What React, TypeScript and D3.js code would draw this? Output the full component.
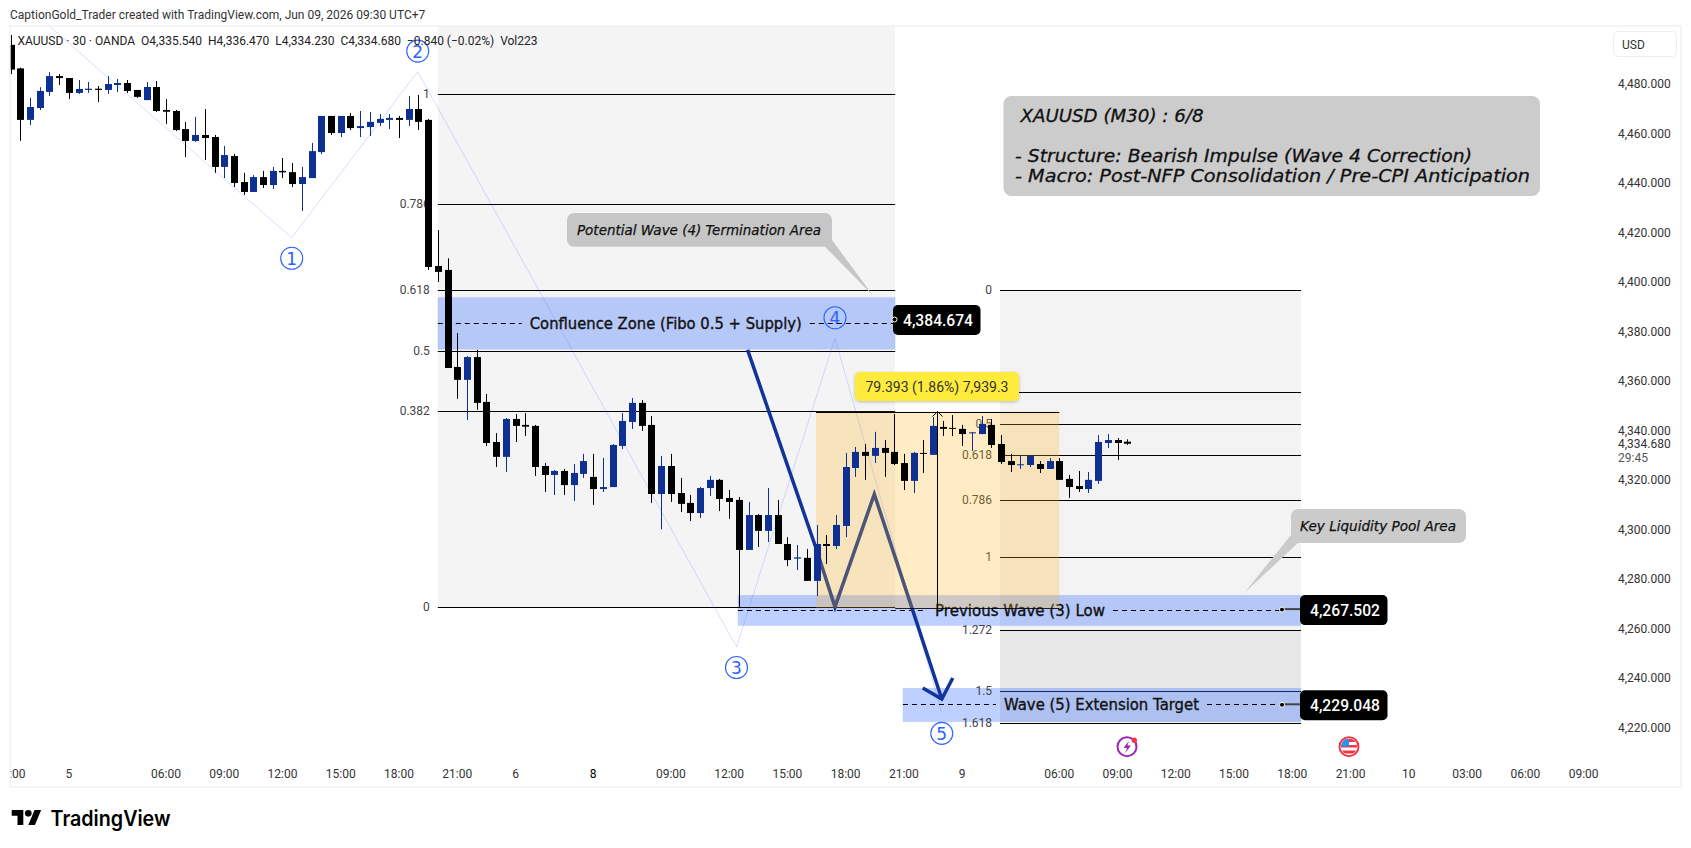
import React from "react";
import * as d3 from "d3";

const WIDTH = 1691;
const HEIGHT = 848;

// ---------- OHLC of the XAUUSD 30m bars ----------
const opens = [4495.8,4486.3,4465.5,4470.3,4476.8,4483.2,4482.4,4476.4,4477.6,4478.1,4477.6,4479.6,4480.4,4477.6,4473.5,4478.8,4469.5,4469.1,4461.8,4457.0,4459.4,4458.6,4446.5,4450.9,4440.4,4436.4,4442.4,4439.2,4444.9,4444.4,4439.6,4442.0,4452.5,4467.1,4460.2,4467.1,4462.2,4462.6,4464.3,4465.5,4466.3,4465.5,4469.9,4465.5,4406.5,4404.9,4365.7,4360.5,4369.7,4351.6,4335.4,4329.4,4344.7,4342.3,4341.9,4325.7,4322.1,4323.7,4318.0,4322.5,4321.3,4316.4,4317.2,4333.8,4343.5,4351.2,4342.3,4314.4,4325.7,4314.8,4310.8,4306.7,4316.8,4320.1,4312.8,4312.0,4291.8,4305.9,4299.5,4305.9,4294.2,4288.3,4288.6,4279.3,4294.2,4293.4,4301.5,4324.9,4331.4,4329.8,4333.0,4331.4,4326.9,4319.7,4331.0,4330.2,4341.5,4341.1,4340.7,4338.9,4338.6,4342.3,4334.6,4327.7,4326.1,4326.1,4326.5,4324.5,4327.7,4320.5,4317.6,4316.4,4319.7,4335.0,4336.2,4335.54];
const highs = [4499.8,4486.6,4474.4,4478.7,4484.8,4484.0,4482.4,4481.6,4480.8,4479.2,4483.2,4482.0,4481.6,4477.6,4480.8,4481.2,4473.9,4469.5,4464.7,4466.7,4469.9,4459.4,4455.0,4451.7,4444.1,4443.2,4444.9,4446.5,4450.1,4448.1,4446.5,4456.2,4467.1,4467.1,4467.1,4468.3,4469.1,4468.7,4467.9,4467.9,4467.1,4475.2,4475.6,4465.9,4421.0,4409.6,4379.4,4370.1,4372.6,4354.8,4339.0,4345.1,4346.7,4347.1,4342.3,4326.9,4324.1,4324.5,4326.5,4330.6,4330.6,4329.0,4334.6,4347.1,4353.2,4352.4,4345.9,4329.8,4330.6,4320.9,4314.0,4317.2,4321.7,4320.5,4316.0,4313.2,4311.2,4306.3,4316.8,4312.0,4297.0,4293.8,4292.2,4301.9,4297.8,4305.9,4331.0,4333.4,4334.6,4339.5,4336.2,4346.7,4330.6,4331.4,4336.2,4345.5,4343.9,4346.3,4342.3,4339.5,4345.9,4344.7,4338.2,4330.6,4330.2,4330.2,4327.7,4328.9,4328.9,4322.1,4323.7,4323.3,4338.2,4338.6,4337.0,4336.47];
const lows = [4484.0,4457.0,4463.4,4469.5,4475.2,4479.6,4473.9,4476.0,4476.4,4472.7,4476.0,4476.8,4476.4,4474.4,4473.5,4468.7,4463.8,4461.0,4450.5,4456.6,4449.3,4444.1,4442.0,4438.4,4435.2,4436.4,4438.0,4437.6,4442.0,4438.4,4428.7,4442.0,4451.7,4459.4,4458.6,4461.4,4458.6,4459.0,4463.0,4461.8,4458.2,4463.0,4461.4,4404.9,4400.0,4365.3,4352.8,4344.3,4348.4,4333.8,4325.3,4323.3,4335.4,4337.8,4321.7,4315.2,4314.0,4314.0,4311.6,4320.9,4310.0,4315.2,4317.2,4332.6,4340.7,4339.9,4310.8,4300.1,4311.2,4307.1,4303.5,4304.7,4313.6,4307.5,4304.3,4268.6,4291.8,4293.0,4295.0,4294.2,4285.3,4283.7,4279.3,4273.2,4286.1,4292.2,4297.0,4321.3,4320.1,4326.9,4321.3,4326.1,4316.0,4314.8,4322.9,4330.2,4337.8,4337.8,4333.8,4331.8,4338.6,4333.0,4326.5,4323.3,4324.5,4325.3,4322.9,4324.5,4320.1,4312.8,4315.2,4314.8,4318.5,4333.0,4328.1,4334.23];
const closes = [4485.8,4465.5,4470.7,4477.2,4483.2,4482.4,4476.4,4478.0,4478.1,4477.6,4480.0,4480.4,4477.2,4474.8,4478.8,4469.1,4468.8,4461.4,4457.0,4459.4,4458.2,4446.5,4451.3,4440.0,4436.4,4442.4,4439.2,4444.9,4444.3,4439.6,4442.4,4452.9,4467.1,4460.2,4467.1,4462.2,4463.0,4464.7,4465.9,4466.3,4465.5,4469.9,4464.7,4406.1,4404.1,4365.3,4360.5,4369.7,4351.2,4335.0,4329.4,4344.7,4341.9,4341.6,4325.3,4322.1,4323.7,4318.0,4322.9,4327.7,4316.4,4317.2,4334.2,4343.9,4351.2,4341.9,4314.4,4325.7,4314.4,4310.4,4306.7,4316.8,4320.1,4312.4,4311.2,4291.8,4305.9,4299.5,4305.9,4294.2,4287.7,4288.8,4279.3,4294.2,4293.4,4301.9,4325.3,4331.4,4329.8,4333.0,4331.0,4326.5,4319.7,4331.0,4330.7,4341.9,4340.7,4340.7,4338.6,4339.3,4342.7,4334.2,4327.3,4326.1,4326.4,4329.8,4324.5,4327.7,4320.1,4317.2,4316.4,4320.1,4335.4,4336.2,4335.0,4334.68];

const priceTicks = [4480,4460,4440,4420,4400,4380,4360,4340,4320,4300,4280,4260,4240,4220];
const timeTickBars = [0,6,16,22,28,34,40,46,52,60,68,74,80,86,92,98,108,114,120,126,132,138,144,150,156,162];
const timeTickLabels = ["21:00","5","06:00","09:00","12:00","15:00","18:00","21:00","6","8","09:00","12:00","15:00","18:00","21:00","9","06:00","09:00","12:00","15:00","18:00","21:00","10","03:00","06:00","09:00"];

const fibRatios1 = [1,0.786,0.618,0.5,0.382,0];
const fibRatios2 = [0,0.382,0.5,0.618,0.786,1,1.272,1.5,1.618];
const fibHidden2 = [0.382];
const waveBars = [4.06,28.95,41.93,74.76,84.9,95.9];
const wavePrices = [4503.1,4417.9,4485,4252.6,4377.3,4226];
const waveNames = ["","1","2","3","4","5"];
const waveSides = [0,1,-1,1,-1,1];
// the projected path: impulse down, small zigzag, then the arrow to the wave 5 target
const pathBars = [75.9,82.95,84.9,88.95,92.9,95.9];
const pathPrices = [4372.6,4292.5,4268.8,4314.3,4267.5,4231.6];

const zoneStart = [44,74.9,91.9];
const zoneEnd = [91.1,132.9,132.9];
const zoneTop = [4393.8,4273.5,4236.0];
const zoneBottom = [4372.8,4261.2,4222.4];
const zoneDash = [4383.4,4267.5,4229.5];
const zoneTag = [4384.674,4267.502,4229.048];
const zoneText = ["Confluence Zone (Fibo 0.5 + Supply)","Previous Wave (3) Low","Wave (5) Extension Target"];
const fmt = d3.format(",.3f");

const UI = "Roboto, sans-serif";
const NOTE = "'DejaVu Sans', sans-serif";
const CANDLE_BLUE = "#0e3092";
const WAVE = "#2962ff";

export default function App() {
  const x = d3.scaleLinear().domain([0, 115]).range([10.6, 1127.25]);
  const y = d3.scaleLinear().domain([4480, 4220]).range([84, 727.7]);

  const fib1 = d3.scaleLinear().domain([0, 1]).range([4268.6, 4475.84]);
  const fib2 = d3.scaleLinear().domain([0, 1]).range([4396.8, 4288.8]);
  const f1L = x(44), f1R = x(91.1), f2L = x(101.9), f2R = x(132.9);
  const mL = x(82.95), mR = x(108), mMid = Math.round(x(95.4)) + 0.5;
  const mTop = y(4347.7), mBot = y(4268.3);

  const wavePath = d3.line()(waveBars.map((b, i) => [x(b), y(wavePrices[i])]) as [number, number][])!;
  const arrowPath = d3.line()(pathBars.map((b, i) => [x(b), y(pathPrices[i])]) as [number, number][])!;
  const ax1 = x(pathBars[5]), ay1 = y(pathPrices[5]);

  const zoneTextX = [[665.8, 272], [1020, 170], [1101.5, 195]];
  const dashEnd = [893, 1282, 1282];

  return (
    <svg width={WIDTH} height={HEIGHT} viewBox={`0 0 ${WIDTH} ${HEIGHT}`}
      style={{ position: "absolute", left: 0, top: 0, background: "#fff", display: "block" }}>
      <defs>
        <clipPath id="pane"><rect x={10} y={26} width={1671} height={761} /></clipPath>
        <filter id="sh" x="-10%" y="-20%" width="120%" height="150%">
          <feDropShadow dx="0" dy="1" stdDeviation="1.5" floodColor="#000" floodOpacity="0.25" />
        </filter>
        <clipPath id="flagc"><circle cx={1349} cy={746.7} r={8} /></clipPath>
      </defs>

      <text x={10} y={15} fontFamily={UI} fontSize={12} fill="#333" dominantBaseline="central">CaptionGold_Trader created with TradingView.com, Jun 09, 2026 09:30 UTC+7</text>

      <g clipPath="url(#pane)">
        {/* fib backgrounds */}
        <rect x={f1L} y={26} width={f1R - f1L} height={y(fib1(0)) - 26} fill="#f4f4f4" />
        <rect x={f2L} y={y(fib2(0))} width={f2R - f2L} height={y(fib2(1.272)) - y(fib2(0))} fill="#f3f3f3" />
        <rect x={f2L} y={y(fib2(1.272))} width={f2R - f2L} height={y(fib2(1.618)) - y(fib2(1.272))} fill="#e8e8e8" />

        {/* zones */}
        {zoneText.map((_, i) => (
          <rect key={i} x={x(zoneStart[i])} y={y(zoneTop[i])} width={x(zoneEnd[i]) - x(zoneStart[i])}
            height={y(zoneBottom[i]) - y(zoneTop[i])} fill="#2962ff" fillOpacity={0.3} stroke="#2962ff" strokeOpacity={0.05} />
        ))}

        {/* fib lines and labels */}
        {fibRatios1.map((r) => (
          <g key={r}>
            <line x1={f1L} x2={f1R} y1={Math.round(y(fib1(r))) + 0.5} y2={Math.round(y(fib1(r))) + 0.5} stroke="#000" />
            <text x={f1L - 8} y={y(fib1(r))} textAnchor="end" dominantBaseline="central" fontFamily={UI} fontSize={12} fill="#444">{r}</text>
          </g>
        ))}
        {fibRatios2.map((r) => (
          <g key={r}>
            <line x1={f2L} x2={f2R} y1={Math.round(y(fib2(r))) + 0.5} y2={Math.round(y(fib2(r))) + 0.5} stroke={r === 1.5 ? "#0f2a6b" : "#000"} />
            {!fibHidden2.includes(r) && (
              <text x={f2L - 8} y={y(fib2(r))} textAnchor="end" dominantBaseline="central" fontFamily={UI} fontSize={12} fill="#444">{r}</text>
            )}
          </g>
        ))}

        {/* wave lines and labels */}
        <path d={wavePath} fill="none" stroke="#2962ff" strokeOpacity={0.2} strokeWidth={1} />
        {waveNames.map((n, i) => n && (
          <g key={n}>
            <circle cx={x(waveBars[i])} cy={y(wavePrices[i]) + waveSides[i] * 20.5} r={11} fill="none" stroke={WAVE} strokeWidth={1.1} />
            <text x={x(waveBars[i])} y={y(wavePrices[i]) + waveSides[i] * 20.5 + 0.5} textAnchor="middle" dominantBaseline="central"
              fontFamily={NOTE} fontSize={17} fill={WAVE}>{n}</text>
          </g>
        ))}

        {/* zone dashed lines and labels */}
        {zoneText.map((t, i) => {
          const [cx, w] = zoneTextX[i];
          const dy = Math.round(y(zoneDash[i])) + 0.5;
          const x0 = x(zoneStart[i]);
          return (
            <g key={t}>
              <line x1={x0} x2={cx - w / 2 - 8} y1={dy} y2={dy} stroke="#000" strokeDasharray="5 4" />
              <line x1={cx + w / 2 + 8} x2={dashEnd[i]} y1={dy} y2={dy} stroke="#000" strokeDasharray="5 4" />
              <text x={cx} y={dy} textAnchor="middle" dominantBaseline="central" fontFamily={NOTE} fontSize={15}
                fill="#111" textLength={w} lengthAdjust="spacingAndGlyphs" stroke="#111" strokeWidth={0.35}>{t}</text>
            </g>
          );
        })}

        {/* projected path with arrow head; the orange measure box tints its middle */}
        <path d={arrowPath} fill="none" stroke="#10349a" strokeWidth={3.5} strokeLinejoin="miter" />
        <path d={d3.line()([[ax1 - 19, ay1 - 11], [ax1, ay1], [ax1 + 11, ay1 - 21]] as [number, number][])!} fill="none" stroke="#10349a" strokeWidth={3.5} />

        {/* measure tool */}
        <rect x={mL} y={mTop} width={mR - mL} height={mBot - mTop} fill="rgb(255,180,20)" fillOpacity={0.25} />
        <line x1={mL} x2={mR} y1={Math.round(mTop) + 0.5} y2={Math.round(mTop) + 0.5} stroke="#000" />
        <line x1={f1R} x2={mR} y1={Math.round(mBot) + 0.5} y2={Math.round(mBot) + 0.5} stroke="#000" strokeOpacity={0.85} />
        <line x1={mMid} x2={mMid} y1={mTop} y2={mBot} stroke="#000" />
        <path d={`M${mMid - 5},${mTop + 5} L${mMid},${mTop} L${mMid + 5},${mTop + 5}`} fill="none" stroke="#000" />

        {/* candles */}
        {opens.map((o, i) => {
          const c = closes[i];
          const up = c > o;
          const col = up ? CANDLE_BLUE : "#000";
          const cx = Math.round(x(i));
          const t = y(Math.max(o, c));
          const h = Math.max(1, y(Math.min(o, c)) - t);
          return (
            <g key={i}>
              <rect x={cx} y={y(highs[i])} width={1} height={y(lows[i]) - y(highs[i])} fill={col} />
              <rect x={cx - 3} y={t} width={7} height={h} fill={col} />
            </g>
          );
        })}

        {/* yellow measure label */}
        <rect x={855} y={372} width={164} height={29} rx={5} fill="#ffeb3b" filter="url(#sh)" />
        <text x={937} y={386.5} textAnchor="middle" dominantBaseline="central" fontFamily={UI} fontSize={14} fill="#333">79.393 (1.86%) 7,939.3</text>

        {/* price tags */}
        {zoneTag.map((p, i) => {
          const tx = dashEnd[i];
          const py = y(p);
          const bx = i === 0 ? 893 : 1300;
          return (
            <g key={p}>
              {i > 0 && <line x1={tx} x2={bx} y1={py - 1} y2={py - 1} stroke="#444" strokeWidth={2} />}
              {i > 0 && <circle cx={tx} cy={py - 0.5} r={2.5} fill="#000" stroke="#fff" strokeWidth={1} />}
              <rect x={bx} y={py - 15} width={87.5} height={30} rx={5} fill="#000" />
              {i === 0 && <circle cx={bx + 1.5} cy={py - 0.5} r={2.5} fill="#000" stroke="#fff" strokeWidth={1} />}
              <text x={bx + 45} y={py + 0.5} textAnchor="middle" dominantBaseline="central" fontFamily={UI} fontSize={16} fontWeight={500}
                fill="#fff" textLength={70} lengthAdjust="spacingAndGlyphs">{fmt(p)}</text>
            </g>
          );
        })}

        {/* call-outs */}
        <path d="M574,213 H825 a7,7 0 0 1 7,7 V240 L873.3,296 L825,246.7 H574 a7,7 0 0 1 -7,-7 V220 a7,7 0 0 1 7,-7 Z" fill="#c6c6c6" />
        <text x={699} y={229.5} textAnchor="middle" dominantBaseline="central" fontFamily={NOTE} fontStyle="italic" fontSize={13.5}
          fill="#111" textLength={244} lengthAdjust="spacingAndGlyphs" stroke="#111" strokeWidth={0.25}>Potential Wave (4) Termination Area</text>

        <path d="M1298,509 H1459 a7,7 0 0 1 7,7 V536 a7,7 0 0 1 -7,7 H1298 L1244.5,592.7 L1291,535 V516 a7,7 0 0 1 7,-7 Z" fill="#cbcbcb" />
        <text x={1378} y={525.5} textAnchor="middle" dominantBaseline="central" fontFamily={NOTE} fontStyle="italic" fontSize={13.5}
          fill="#111" textLength={156} lengthAdjust="spacingAndGlyphs" stroke="#111" strokeWidth={0.25}>Key Liquidity Pool Area</text>

        <rect x={1003.5} y={96} width={536.5} height={100} rx={8} fill="#cccccc" />
        <text x={1020.5} y={115.5} dominantBaseline="central" fontFamily={NOTE} fontStyle="italic" fontSize={18} fill="#111"
          textLength={183} lengthAdjust="spacingAndGlyphs" stroke="#111" strokeWidth={0.3}>XAUUSD (M30) : 6/8</text>
        <text x={1015} y={155.5} dominantBaseline="central" fontFamily={NOTE} fontStyle="italic" fontSize={18} fill="#111"
          textLength={457} lengthAdjust="spacingAndGlyphs" stroke="#111" strokeWidth={0.3}>- Structure: Bearish Impulse (Wave 4 Correction)</text>
        <text x={1015} y={175.5} dominantBaseline="central" fontFamily={NOTE} fontStyle="italic" fontSize={18} fill="#111"
          textLength={515} lengthAdjust="spacingAndGlyphs" stroke="#111" strokeWidth={0.3}>- Macro: Post-NFP Consolidation / Pre-CPI Anticipation</text>

        {/* legend */}
        <text x={17.5} y={41} dominantBaseline="central" fontFamily={UI} fontSize={12} fill="#222" xmlSpace="preserve">XAUUSD · 30 · OANDA  O4,335.540  H4,336.470  L4,334.230  C4,334.680  −0.840 (−0.02%)  Vol223</text>

        {/* price axis */}
        {priceTicks.map((p) => (
          <text key={p} x={1618} y={y(p)} dominantBaseline="central" fontFamily={UI} fontSize={12} fill="#333">{fmt(p)}</text>
        ))}
        <text x={1618} y={y(4334.68)} dominantBaseline="central" fontFamily={UI} fontSize={12} fill="#333">{fmt(4334.68)}</text>
        <text x={1618} y={457.7} dominantBaseline="central" fontFamily={UI} fontSize={12} fill="#555">29:45</text>
        <rect x={1613.5} y={31.5} width={63} height={25} rx={4} fill="#fff" stroke="#eceef2" />
        <text x={1622} y={44.5} dominantBaseline="central" fontFamily={UI} fontSize={12} fill="#333">USD</text>

        {/* time axis */}
        {timeTickBars.map((b, i) => (
          <text key={i} x={x(b)} y={774} textAnchor="middle" dominantBaseline="central" fontFamily={UI} fontSize={12}
            fill={timeTickLabels[i] === "8" ? "#000" : "#333"}>{timeTickLabels[i]}</text>
        ))}

        {/* event icons */}
        <circle cx={1127} cy={746.7} r={9.5} fill="#fff" stroke="#9c27b0" strokeWidth={2} />
        <path d="M1129,741 L1123.5,748 H1127 L1125,753 L1131,745.5 H1127.5 Z" fill="#9c27b0" />
        <circle cx={1134.3} cy={740.3} r={2.7} fill="#f23645" />
        <circle cx={1349} cy={746.7} r={9.5} fill="#fff" stroke="#f23645" strokeWidth={2} />
        <g clipPath="url(#flagc)">
          <rect x={1341} y={739} width={16} height={3} fill="#f23645" />
          <rect x={1341} y={745} width={16} height={2.5} fill="#f23645" />
          <rect x={1341} y={750.5} width={16} height={3} fill="#f23645" />
          <rect x={1341} y={738.5} width={8} height={8} fill="#2196f3" />
        </g>
      </g>

      <rect x={10} y={26} width={1671} height={761} fill="none" stroke="#f0f1f3" strokeWidth={1.5} />

      {/* TradingView logo */}
      <g transform="translate(11.7,806.7) scale(0.83)" fill="#000">
        <path d="M14 22H7V11H0V4h14v18zM28 22h-8l7.5-18h8L28 22z" />
        <circle cx={20} cy={8} r={4} />
      </g>
      <text x={50.5} y={818} dominantBaseline="central" fontFamily="Inter, sans-serif" fontWeight={600} fontSize={21} fill="#000"
        textLength={120} lengthAdjust="spacingAndGlyphs">TradingView</text>
    </svg>
  );
}
